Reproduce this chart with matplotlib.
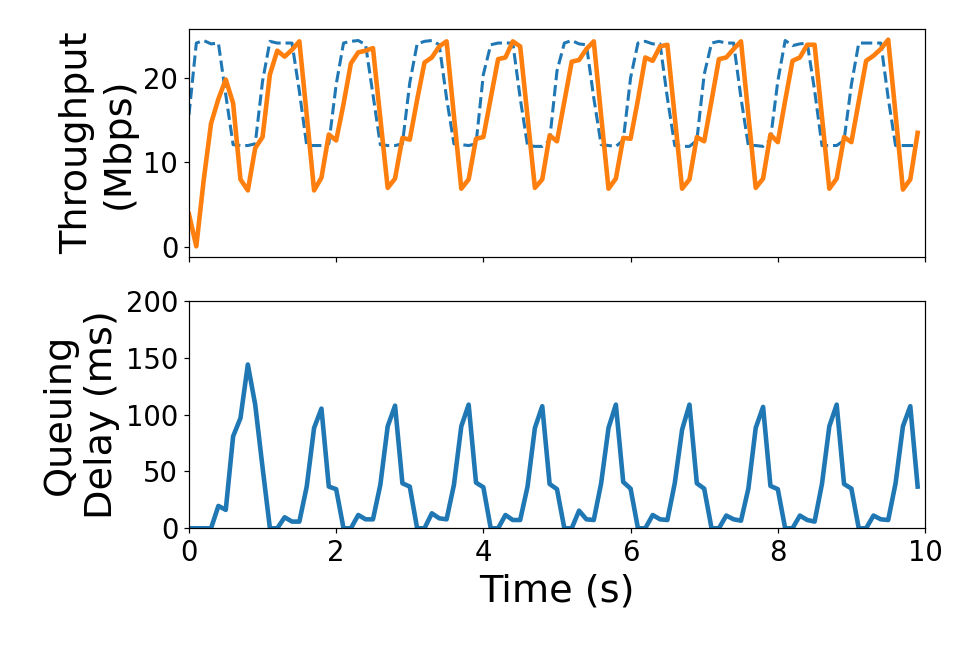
import numpy as np
import matplotlib
matplotlib.use('Agg')
import matplotlib.pyplot as plt

# time axis, one sample every 100 ms
time_s = np.round(np.arange(100) * 0.1, 1)

# link capacity (dashed) and achieved throughput, Mbps
capacity = [
    15.6, 24.1, 24.4, 24.0, 24.1, 18.0, 12.1, 12.0, 12.0, 12.2,
    19.6, 24.3, 24.1, 24.1, 24.1, 18.4, 12.0, 12.0, 12.0, 12.2,
    19.2, 24.1, 24.3, 24.4, 23.9, 18.0, 12.1, 12.0, 12.0, 12.2,
    19.4, 24.0, 24.3, 24.4, 23.9, 17.6, 12.2, 12.1, 12.0, 12.2,
    20.4, 23.9, 24.1, 24.1, 24.1, 17.6, 12.0, 11.9, 11.9, 12.6,
    20.8, 24.1, 24.4, 24.0, 23.9, 17.6, 12.1, 12.0, 11.9, 12.6,
    20.0, 24.1, 24.3, 24.0, 24.0, 17.6, 12.0, 11.9, 11.9, 12.6,
    20.4, 24.1, 24.3, 24.1, 24.1, 17.6, 12.0, 12.0, 11.9, 12.7,
    19.6, 24.4, 23.8, 24.0, 24.1, 18.5, 12.0, 12.0, 12.0, 12.6,
    19.2, 24.1, 24.1, 24.1, 24.1, 17.6, 12.0, 12.0, 12.0, 12.0,
]
throughput = [
    3.9, 0.1, 7.9, 14.6, 17.5, 19.8, 17.0, 8.0, 6.7, 11.7,
    13.0, 20.4, 23.2, 22.5, 23.3, 24.3, 15.6, 6.7, 8.2, 13.3,
    12.6, 16.9, 21.7, 23.0, 23.2, 23.5, 15.2, 7.0, 8.1, 12.9,
    12.7, 17.4, 21.8, 22.4, 23.7, 24.3, 15.5, 6.9, 8.0, 12.8,
    13.0, 17.6, 22.2, 22.4, 24.3, 23.7, 15.4, 7.0, 8.0, 13.2,
    12.5, 17.2, 21.9, 22.1, 23.4, 24.3, 15.5, 6.9, 8.1, 12.9,
    12.8, 17.4, 22.4, 22.0, 23.7, 23.9, 15.4, 6.9, 8.0, 13.0,
    12.5, 17.3, 22.2, 22.4, 23.4, 24.3, 15.6, 7.0, 8.1, 13.3,
    12.4, 17.3, 22.0, 22.4, 23.9, 23.9, 15.4, 6.9, 8.1, 13.0,
    12.4, 17.2, 22.0, 22.6, 23.4, 24.5, 15.7, 6.8, 8.0, 13.5,
]

# queuing delay, ms
delay = [
    0, 0, 0, 0, 19.7, 16.2, 80.9, 97.0, 144.1, 108.8,
    53.5, 0, 0, 9.7, 5.9, 5.9, 36.7, 88.3, 105.3, 36.7,
    34.4, 0, 0, 11.7, 7.9, 7.9, 38.2, 89.7, 107.9, 39.6,
    36.7, 0, 0, 13.2, 8.8, 7.9, 38.2, 89.7, 108.8, 40.2,
    36.1, 0, 0, 11.7, 7.3, 7.3, 36.7, 88.3, 107.4, 39.0,
    34.4, 0, 0, 15.5, 7.9, 7.3, 39.6, 88.3, 108.8, 40.8,
    34.9, 0, 0, 11.7, 7.9, 7.3, 39.6, 86.8, 108.8, 39.6,
    34.9, 0, 0, 11.2, 7.9, 6.7, 34.9, 88.3, 106.8, 37.3,
    34.4, 0, 0, 11.2, 7.3, 5.9, 39.0, 89.7, 108.8, 39.0,
    34.9, 0, 0, 11.2, 7.9, 7.3, 39.6, 89.7, 107.4, 36.7,
]

DPI = 110
fig, (ax_tp, ax_q) = plt.subplots(2, 1, sharex=True,
                                  figsize=(969 / DPI, 646 / DPI), dpi=DPI)
fig.subplots_adjust(left=0.195, right=0.9546, top=0.9546, bottom=0.1822,
                    hspace=0.195)

# 上：吞吐量
ax_tp.plot(time_s, capacity, '--', color='#1f77b4', linewidth=2)
ax_tp.plot(time_s, throughput, color='#ff7f0e', linewidth=3)
ax_tp.set_ylabel('Throughput\n(Mbps)', fontsize=25)
ax_tp.set_yticks([0, 10, 20])
ax_tp.tick_params(labelsize=18)

# 下：排队时延
ax_q.plot(time_s, delay, color='#1f77b4', linewidth=3)
ax_q.set_ylim(0, 200)
ax_q.set_xlim(0, 10)
ax_q.set_yticks([0, 50, 100, 150, 200])
ax_q.set_xticks([0, 2, 4, 6, 8, 10])
ax_q.set_ylabel('Queuing\nDelay (ms)', fontsize=25)
ax_q.set_xlabel('Time (s)', fontsize=25)
ax_q.tick_params(labelsize=18)

fig.savefig('out.png', dpi=DPI)
